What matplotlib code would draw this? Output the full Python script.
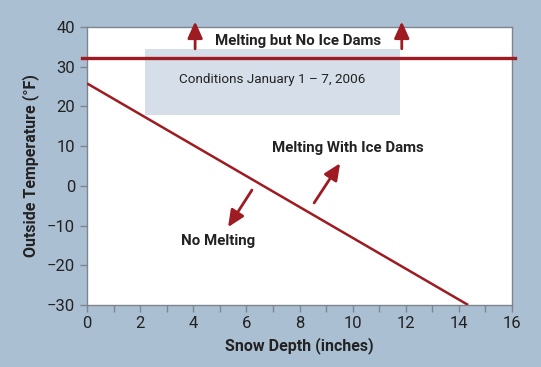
import matplotlib
matplotlib.use("Agg")
import matplotlib.pyplot as plt
from matplotlib.patches import Rectangle
from matplotlib.ticker import MultipleLocator

plt.rcParams['font.family'] = ['Roboto', 'DejaVu Sans']

# data
threshold_temp = 32.3
line_x = [0, 14.35]
line_y = [25.8, -30]
box_x = [2.18, 11.78]
box_y = [17.8, 34.5]
x_ticks = [0, 2, 4, 6, 8, 10, 12, 14, 16]
y_ticks = [-30, -20, -10, 0, 10, 20, 30, 40]

red = "#9e1b22"
bg = "#abbfd3"
fig = plt.figure(figsize=(5.41, 3.67), dpi=100, facecolor=bg)
ax = fig.add_axes([87/541, 1-305/367, (512-87)/541, (305-27)/367])
ax.set_xlim(0, 16)
ax.set_ylim(-30, 40)
ax.set_facecolor("white")

ax.add_patch(Rectangle((box_x[0], box_y[0]), box_x[1]-box_x[0], box_y[1]-box_y[0],
                       facecolor="#d6dfe9", edgecolor="none", zorder=1))
ax.text(sum(box_x)/2, 26.9, "Conditions January 1 – 7, 2006", ha="center", va="center",
        fontsize=9.7, color="#222222", zorder=3)

ax.plot([-0.2, 16.1], [threshold_temp, threshold_temp], color=red, lw=2.4, clip_on=False, zorder=4)
ax.plot(line_x, line_y, color=red, lw=1.8, zorder=4, solid_capstyle="butt")

arrowprops = dict(arrowstyle="-|>,head_length=1.0,head_width=0.45", color=red, lw=2.0,
                  shrinkA=0, shrinkB=0)
for ax_x in [4.07, 11.85]:
    ax.annotate("", xy=(ax_x, 41.4), xytext=(ax_x, 34.5), arrowprops=arrowprops,
                annotation_clip=False, zorder=5)
ax.annotate("", xy=(9.53, 5.7), xytext=(8.55, -4.3), arrowprops=arrowprops, zorder=5)
ax.annotate("", xy=(5.31, -10.4), xytext=(6.21, -1.06), arrowprops=arrowprops, zorder=5)

tk = dict(fontsize=10.8, fontweight="bold", color="#222222", ha="center", va="center", zorder=6)
ax.text(7.94, 36.6, "Melting but No Ice Dams", **tk)
ax.text(9.83, 9.6, "Melting With Ice Dams", **tk)
ax.text(4.93, -13.8, "No Melting", **tk)

ax.set_xticks(x_ticks)
ax.set_yticks(y_ticks)
ax.xaxis.set_minor_locator(MultipleLocator(1))
for s in ax.spines.values():
    s.set_color("#7d8590")
    s.set_linewidth(1.0)
ax.tick_params(which="both", direction="out", color="#7d8590", labelcolor="#222222",
               labelsize=12, length=5, width=1)
ax.tick_params(axis="x", pad=3)
ax.set_xlabel("Snow Depth (inches)", fontsize=11.5, fontweight="bold", color="#222222", labelpad=4)
ax.set_ylabel("Outside Temperature (°F)", fontsize=11.5, fontweight="bold", color="#222222", labelpad=6)

fig.savefig("out.png", dpi=100, facecolor=bg)
